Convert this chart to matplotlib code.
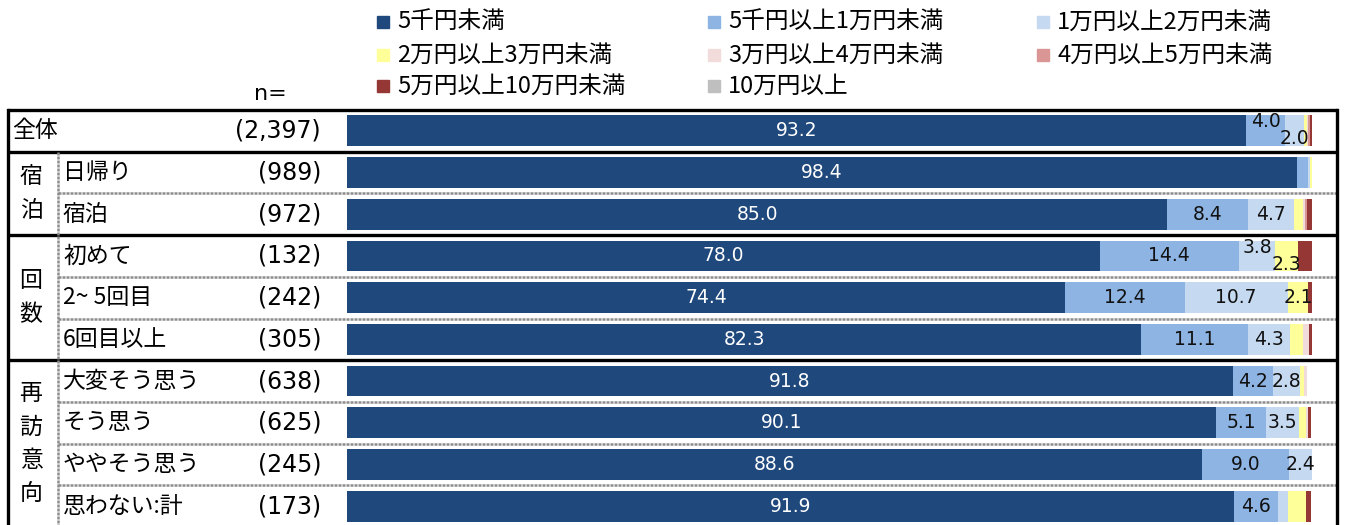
import matplotlib
matplotlib.use('Agg')
import matplotlib.pyplot as plt
import matplotlib.transforms as mtrans
from matplotlib.patches import Rectangle

plt.rcParams['font.family'] = ['Noto Sans CJK JP', 'DejaVu Sans']

# ---------------- data ----------------
categories = ['5千円未満', '5千円以上1万円未満', '1万円以上2万円未満',
              '2万円以上3万円未満', '3万円以上4万円未満', '4万円以上5万円未満',
              '5万円以上10万円未満', '10万円以上']
colors = ['#1F487C', '#8DB4E2', '#C5D9F1', '#FFFF99', '#F2DCDB', '#DA9694',
          '#953735', '#BFBFBF']

row_labels = ['全体', '日帰り', '宿泊', '初めて', '2~ 5回目', '6回目以上',
              '大変そう思う', 'そう思う', 'ややそう思う', '思わない:計']
n_values = ['(2,397)', '(989)', '(972)', '(132)', '(242)', '(305)',
            '(638)', '(625)', '(245)', '(173)']
group_labels = ['宿泊', '回数', '再訪意向']
group_rows = [(1, 2), (3, 5), (6, 9)]

s_lt5k = [93.2, 98.4, 85.0, 78.0, 74.4, 82.3, 91.8, 90.1, 88.6, 91.9]
s_5k_10k = [4.0, 1.2, 8.4, 14.4, 12.4, 11.1, 4.2, 5.1, 9.0, 4.6]
s_10k_20k = [2.0, 0.2, 4.7, 3.8, 10.7, 4.3, 2.8, 3.5, 2.4, 1.0]
s_20k_30k = [0.3, 0.2, 1.0, 2.3, 2.1, 1.4, 0.4, 0.7, 0.0, 1.9]
s_30k_40k = [0.1, 0.0, 0.2, 0.0, 0.0, 0.6, 0.3, 0.2, 0.0, 0.0]
s_40k_50k = [0.2, 0.0, 0.2, 0.0, 0.0, 0.0, 0.0, 0.0, 0.0, 0.0]
s_50k_100k = [0.2, 0.0, 0.5, 1.5, 0.4, 0.3, 0.0, 0.3, 0.0, 0.5]
s_100k = [0.0, 0.0, 0.0, 0.0, 0.0, 0.0, 0.0, 0.0, 0.0, 0.0]
series = [s_lt5k, s_5k_10k, s_10k_20k, s_20k_30k, s_30k_40k, s_40k_50k,
          s_50k_100k, s_100k]

# label nudges (style): (row, series) -> vertical offset in rows
nudges = {(0, 1): -0.22, (0, 2): 0.18, (3, 2): -0.2, (3, 3): 0.2}

# ---------------- figure ----------------
W, H = 1347, 525
fig = plt.figure(figsize=(W / 100, H / 100), dpi=100)

over = fig.add_axes([0, 0, 1, 1])
over.set_xlim(0, W)
over.set_ylim(H, 0)
over.axis('off')

top_px, row_px = 110, 41.7
nrows = len(row_labels)
bottom_px = top_px + row_px * nrows
ax = fig.add_axes([347 / W, (H - bottom_px) / H, (1312 - 347) / W,
                   (bottom_px - top_px) / H])
ax.set_xlim(0, 100)
ax.set_ylim(nrows - 0.5, -0.5)
ax.axis('off')
ax.patch.set_alpha(0)

ypos = list(range(nrows))
left = [0.0] * nrows
for si, (vals, col, name) in enumerate(zip(series, colors, categories)):
    ax.barh(ypos, vals, left=left, height=0.74, color=col, edgecolor='none',
            label=name)
    for ri, v in enumerate(vals):
        if v >= 2.0:
            dy = nudges.get((ri, si), 0)
            ax.text(left[ri] + v / 2, ri + dy, f'{v:.1f}', ha='center',
                    va='center', fontsize=13.5, family='DejaVu Sans',
                    color='white' if si == 0 else '#111111')
    left = [a + b for a, b in zip(left, vals)]

# blended transform: x in pixels (overlay), y in bar rows
bt = mtrans.blended_transform_factory(over.transData, ax.transData)

# table lines
x_l, x_in, x_r = 8, 58, 1337
for b in [-0.5, 0.5, 2.5, 5.5]:
    over.plot([x_l, x_r], [b, b], transform=bt, color='black', lw=2.4,
              solid_capstyle='butt', clip_on=False)
for b in [1.5, 3.5, 4.5, 6.5, 7.5, 8.5]:
    over.plot([x_in, x_r], [b, b], transform=bt, color='#8c8c8c', lw=1.8,
              ls=(0, (1.2, 0.4)), clip_on=False)
over.plot([x_l, x_l], [-0.5, nrows], transform=bt, color='black', lw=2.4,
          clip_on=False)
over.plot([x_r, x_r], [-0.5, nrows], transform=bt, color='black', lw=2.4,
          clip_on=False)
over.plot([x_in, x_in], [0.5, nrows], transform=bt, color='#8c8c8c', lw=1.8,
          ls=(0, (1.2, 0.4)), clip_on=False)

# row labels and n
for ri, (lab, n) in enumerate(zip(row_labels, n_values)):
    over.text(12 if ri == 0 else 63, ri, lab, transform=bt, ha='left',
              va='center', fontsize=16.5)
    over.text(321, ri, n, transform=bt, ha='right', va='center',
              fontsize=17, family='DejaVu Sans')

# group labels (stacked characters)
for glab, (r0, r1) in zip(group_labels, group_rows):
    c = (r0 + r1) / 2
    k = len(glab)
    for j, ch in enumerate(glab):
        over.text(31, c + (j - (k - 1) / 2) * 0.8, ch, transform=bt,
                  ha='center', va='center', fontsize=16.5)

over.text(270, 94, 'n=', ha='center', va='center', fontsize=16,
          family='DejaVu Sans')

# legend (row-major, 3 columns)
col_x = [383, 714, 1043]
row_y = [22, 55, 86]
for i, (name, col) in enumerate(zip(categories, colors)):
    x = col_x[i % 3]
    y = row_y[i // 3]
    over.add_patch(Rectangle((x - 6, y - 6), 12, 12, color=col))
    over.text(x + 14, y, name, ha='left', va='center', fontsize=17)

fig.savefig('out.png', dpi=100)
